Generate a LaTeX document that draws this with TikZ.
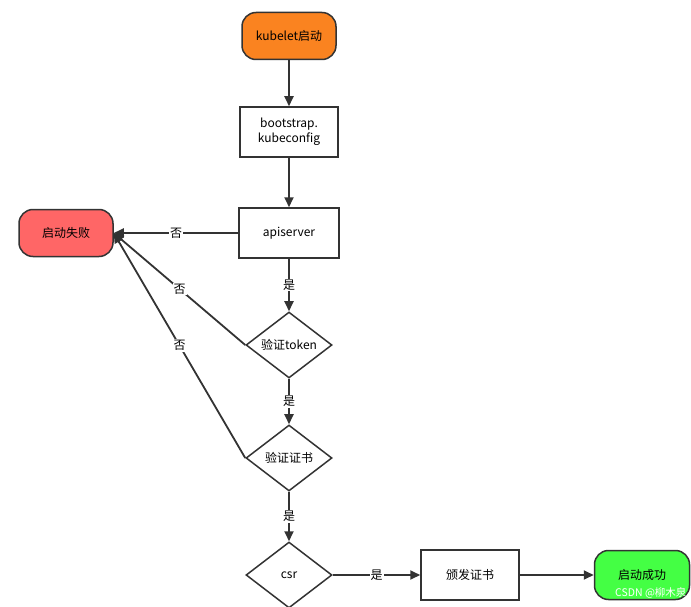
\documentclass[tikz,border=0pt]{standalone}
\usepackage{fontspec}
\setmainfont{Noto Sans CJK SC}
\usepackage{tikz}
\usetikzlibrary{arrows.meta, shapes.geometric}
\definecolor{linegray}{HTML}{333333}
\definecolor{startorange}{HTML}{FA8320}
\definecolor{failred}{HTML}{FF6666}
\definecolor{okgreen}{HTML}{44FF44}
\tikzset{
  flowline/.style={draw=linegray, line width=1.8pt, -{Triangle[length=10pt,width=9pt]}},
  terminal/.style={draw=linegray, line width=1.5pt, rounded corners=14pt, minimum width=94pt, minimum height=47pt, font=\fontsize{12}{14}\selectfont},
  procbox/.style={draw=linegray, line width=1.5pt, fill=white, minimum width=98pt, minimum height=50pt, align=center, font=\fontsize{12}{15}\selectfont},
  decision/.style={draw=linegray, line width=1.5pt, fill=white, diamond, aspect=1.3, minimum width=86pt, minimum height=66pt, inner sep=0pt, font=\fontsize{12}{14}\selectfont},
  edgelabel/.style={fill=white, inner sep=1pt, font=\fontsize{12}{14}\selectfont}
}

\begin{document}
\begin{tikzpicture}[x=1pt, y=-1pt]
      \useasboundingbox (0,0) rectangle (691,607);
      \node[terminal, fill=startorange] (start) at (289,36) {kubelet启动};
      \node[procbox] (boot) at (289,132) {bootstrap.\\kubeconfig};
      \node[procbox, minimum width=100pt] (api) at (289,233) {apiserver};
      \node[terminal, fill=failred] (fail) at (66,233) {启动失败};
      \node[decision] (token) at (289,345) {验证token};
      \node[decision] (cert) at (289,458) {验证证书};
      \node[decision] (csr) at (289,575) {csr};
      \node[procbox] (issue) at (470,575) {颁发证书};
      \node[terminal, fill=okgreen, minimum width=95pt, minimum height=49pt] (ok) at (642,575) {启动成功};
      \node[text=white, font=\fontsize{10.5}{12}\selectfont, anchor=east] (mark) at (690,593) {CSDN @柳木泉};
      \draw[flowline] (start) -- (boot);
      \draw[flowline] (boot) -- (api);
      \draw[flowline] (api) -- node[edgelabel]{否} (fail.east);
      \draw[flowline] (api) -- node[edgelabel]{是} (token);
      \draw[flowline] (token.west) -- node[edgelabel]{否} (fail.east);
      \draw[flowline] (token) -- node[edgelabel]{是} (cert);
      \draw[flowline] (cert.west) -- node[edgelabel]{否} (fail.east);
      \draw[flowline] (cert) -- node[edgelabel]{是} (csr);
      \draw[flowline] (csr) -- node[edgelabel]{是} (issue);
      \draw[flowline] (issue) -- (ok);
    \end{tikzpicture}
\end{document}
